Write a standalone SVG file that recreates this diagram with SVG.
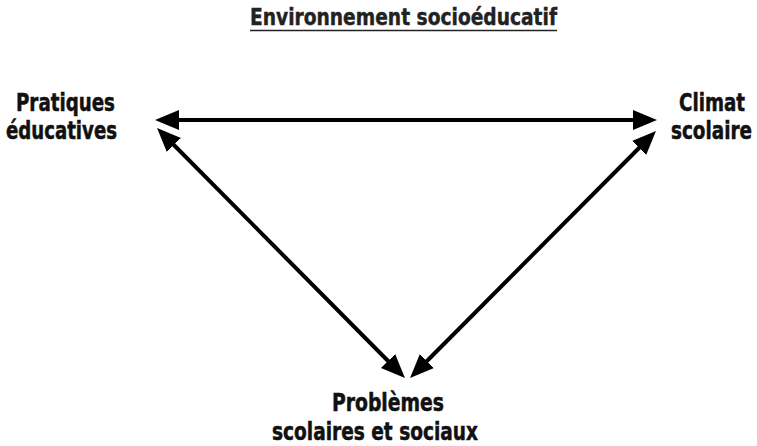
<svg xmlns="http://www.w3.org/2000/svg" width="757" height="446" viewBox="0 0 757 446">
  <defs>
    <style>
      .lbl { font-family: "DejaVu Sans Condensed", "DejaVu Sans", "Liberation Sans", sans-serif; font-stretch: condensed; font-weight: bold; font-size: 25px; fill: #111; stroke: #111; stroke-width: 0.5; }
      .title { font-family: "DejaVu Sans Condensed", "DejaVu Sans", "Liberation Sans", sans-serif; font-stretch: condensed; font-weight: bold; font-size: 23px; fill: #222; stroke: #222; stroke-width: 0.4; }
      .conn { stroke: #000; stroke-width: 4; fill: none; marker-start: url(#head); marker-end: url(#head); }
    </style>
    <marker id="head" viewBox="0 0 24 20" refX="12" refY="10" markerWidth="24" markerHeight="20" markerUnits="userSpaceOnUse" orient="auto-start-reverse">
      <path d="M0,0 L24,10 L0,20 z" fill="#000"/>
    </marker>
  </defs>
  <rect width="757" height="446" fill="#fff"/>

  <g id="title">
    <text class="title" x="250" y="25" textLength="307" lengthAdjust="spacingAndGlyphs">Environnement socioéducatif</text>
    <line x1="250" y1="30.5" x2="557" y2="30.5" stroke="#222" stroke-width="1.5"/>
  </g>

  <g id="connectors">
    <line class="conn" x1="167" y1="120" x2="645" y2="120"/>
    <line class="conn" x1="165.5" y1="136.5" x2="396.5" y2="369.5"/>
    <line class="conn" x1="647.5" y1="139.5" x2="418.5" y2="369.5"/>
  </g>

  <g id="node-pratiques">
    <text class="lbl" x="16" y="111" textLength="99" lengthAdjust="spacingAndGlyphs">Pratiques</text>
    <text class="lbl" x="6" y="139" textLength="111" lengthAdjust="spacingAndGlyphs">éducatives</text>
  </g>

  <g id="node-climat">
    <text class="lbl" x="679" y="111" textLength="66" lengthAdjust="spacingAndGlyphs">Climat</text>
    <text class="lbl" x="671" y="139" textLength="81" lengthAdjust="spacingAndGlyphs">scolaire</text>
  </g>

  <g id="node-problemes">
    <text class="lbl" x="332" y="411" textLength="112" lengthAdjust="spacingAndGlyphs">Problèmes</text>
    <text class="lbl" x="272" y="440" textLength="206" lengthAdjust="spacingAndGlyphs">scolaires et sociaux</text>
  </g>
</svg>
